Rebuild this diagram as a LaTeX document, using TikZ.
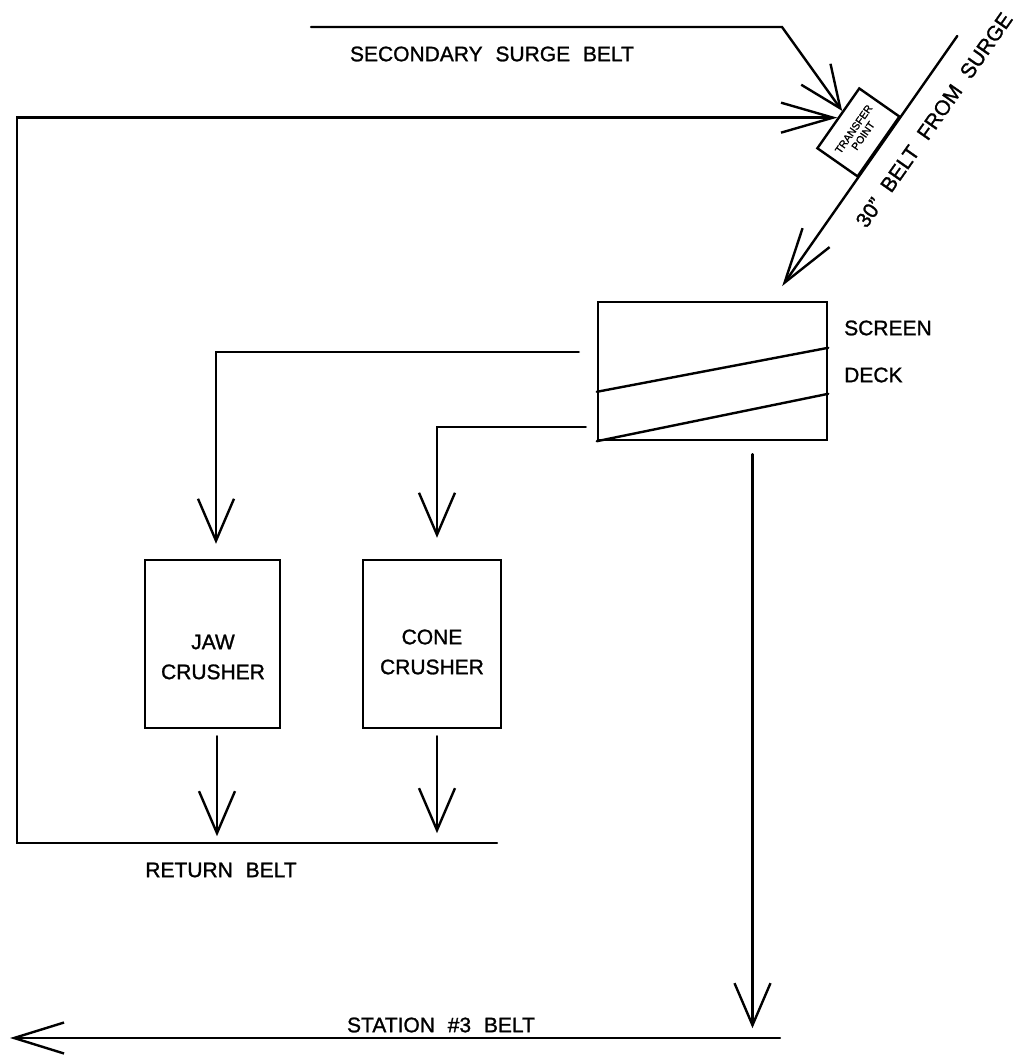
\documentclass[tikz,border=0pt]{standalone}
\usepackage{fontspec}
\setmainfont{Liberation Sans}[WordSpace=2.2, FakeBold=1.2]
\usetikzlibrary{arrows.meta,calc}
\begin{document}
\begin{tikzpicture}[x=1pt,y=-1pt,
  line width=2.4pt, line cap=round,
  box/.style={draw, rectangle, inner sep=0pt},
  lbl/.style={font=\fontsize{21}{30}\selectfont, inner sep=0pt, align=center},
  flow/.style={-{Straight Barb[length=42pt,width=36pt]}},
  flowlong/.style={-{Straight Barb[length=52pt,width=30pt]}},
  flowbelt/.style={-{Straight Barb[length=55pt,width=33pt]}},
  flowstation/.style={-{Straight Barb[length=50pt,width=31pt]}},
]
\useasboundingbox (0,0) rectangle (1016,1055);

% equipment
\node[box, minimum width=73pt, minimum height=49pt, rotate=55,
      font=\fontsize{10.5}{11.5}\selectfont, align=center] (tp) at (858.4,132.4) {TRANSFER\\POINT};
\node[box, minimum width=229pt, minimum height=138pt] (screen) at (712.5,371) {};
\node[box, minimum width=135pt, minimum height=168pt] (jaw) at (212.5,644) {};
\node[box, minimum width=138pt, minimum height=168pt] (cone) at (432,644) {};

% screen decks
\draw ($(screen.north west)+(0,91)$) -- ($(screen.north east)+(0,47)$);
\draw (screen.south west) -- ($(screen.north east)+(0,93)$);

% labels
\node[lbl, anchor=west] (screenlbl) at (843,328) {SCREEN};
\node[lbl, anchor=west] (decklbl) at (843,375) {DECK};
\node[lbl] (jawlbl) at (213,657) {JAW\\CRUSHER};
\node[lbl] (conelbl) at (432,652) {CONE\\CRUSHER};
\node[lbl] (surgelbl) at (492,54) {SECONDARY SURGE BELT};
\node[lbl] (returnlbl) at (221,870) {RETURN BELT};
\node[lbl] (stationlbl) at (441,1025) {STATION \#3 BELT};
\node[lbl, rotate=55] (beltlbl) at (934,120) {30" BELT FROM SURGE};

% coordinates for free ends
\coordinate (s1) at ($(screen.north west)+(-18,51)$);
\coordinate (s2) at ($(screen.north west)+(-11,126)$);
\coordinate (retend) at (497,843);
\coordinate (retcorner) at (17,843);
\coordinate (surgestart) at (311,27);
\coordinate (surgebend) at (782,27);
\coordinate (stationstart) at (780,1038);
\coordinate (stationend) at (10,1038);

% screen to crushers
\draw[flow] (s1) -| ($(jaw.north)+(3.5,-15)$);
\draw[flow] (s2) -| ($(cone.north)+(5,-21)$);

% crushers to return belt
\draw[flow] ($(jaw.south)+(4.5,7)$) -- ($(jaw.south)+(4.5,107)$);
\draw[flow] ($(cone.south)+(5,7)$) -- ($(cone.south)+(5,104)$);

% return belt loop to transfer point
\draw[flowlong] (retend) -- (retcorner) |- (tp.north);

% secondary surge belt
\draw[flow] (surgestart) -- (surgebend) -- ($(tp.north)!0.22!(tp.north east)$);

% 30" belt
\draw[flowbelt] ($(tp.south)!-3.6!(tp.south west)$) -- ($(tp.south)!4.5!(tp.south west)$);

% screen undersize to station belt
\draw[flow] ($(screen.south)+(40,13)$) -- ($(screen.south)+(40,587)$);
\draw[flowstation] (stationstart) -- (stationend);
\end{tikzpicture}
\end{document}
